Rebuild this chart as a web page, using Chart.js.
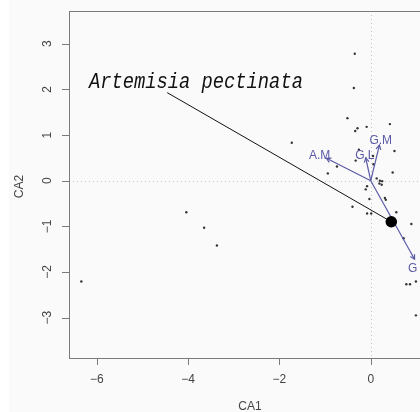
<!DOCTYPE html>
<html>
<head>
<meta charset="utf-8">
<script src="https://cdn.jsdelivr.net/npm/chart.js@4"></script>
<style>
  html, body { margin: 0; padding: 0; overflow: hidden; width: 420px; height: 412px; }
  body { background: linear-gradient(to right, #ffffff 9px, #fafafa 9px); }
  #wrap { position: absolute; left: 0; top: 0; width: 440px; height: 412px; }
</style>
</head>
<body>
<div id="wrap"><canvas id="ca" width="440" height="412"></canvas></div>
<script>
// Site scores (small dots)
const siteX = [-0.35, -0.37, -0.51, -0.29, -0.34, -0.09, 0.42, -1.73, -0.26, -0.33,
  -0.74, -0.94, 0.52, 0.48, 0.05, 0.06, 0.13, 0.20, 0.25, 0.19,
  0.24, -0.08, -0.11, -0.03, 0.31, 0.33, -0.40, -0.08, 0.01, 0.56,
  0.89, 0.72, 0.78, 0.86, 0.99, 0.99, -4.04, -3.65, -3.37, -6.34];
const siteY = [2.78, 2.03, 1.37, 1.15, 1.09, 1.18, 1.24, 0.83, 0.68, 0.44,
  0.31, 0.16, 0.65, 0.18, 0.54, 0.36, 0.05, 0.00, -0.01, -0.06,
  -0.09, -0.12, -0.19, -0.40, -0.38, -0.42, -0.57, -0.72, -0.72, -0.69,
  -0.95, -1.26, -2.27, -2.27, -2.21, -2.95, -0.69, -1.03, -1.42, -2.21];

// Environmental arrows
const envNames = ['A.M', 'G.L', 'G.M', 'G'];
const envX = [-0.97, -0.11, 0.19, 0.96];
const envY = [0.49, 0.50, 0.78, -1.72];
const envLabelX = [-1.12, -0.13, 0.22, 0.92];
const envLabelY = [0.55, 0.54, 0.87, -1.93];

// Highlighted species
const speciesName = 'Artemisia pectinata';
const speciesX = [0.45];
const speciesY = [-0.90];
const speciesLabelX = [-4.46];
const speciesLabelY = [1.93];
const speciesTextX = -3.83;
const speciesTextY = 2.16;

// Axes
const xTicks = [-6, -4, -2, 0];
const yTicks = [-3, -2, -1, 0, 1, 2, 3];
const xTitle = 'CA1';
const yTitle = 'CA2';

const arrowColor = '#5a5aa6';
const axisColor = '#7a7a7a';
const textColor = '#444444';

function fmt(v) {
  return v < 0 ? '\u2212' + Math.abs(v) : String(v);
}

const datasets = [];

datasets.push({
  label: 'species',
  data: speciesX.map((x, i) => ({ x: x, y: speciesY[i] })),
  pointRadius: 5.8,
  pointBackgroundColor: '#000',
  pointBorderWidth: 0,
  showLine: false
});

datasets.push({
  label: 'species-link',
  data: [{ x: speciesX[0], y: speciesY[0] }, { x: speciesLabelX[0], y: speciesLabelY[0] }],
  showLine: true,
  borderColor: '#111',
  borderWidth: 1,
  pointRadius: 0
});

envNames.forEach((name, i) => {
  datasets.push({
    label: name,
    data: [{ x: 0, y: 0 }, { x: envX[i], y: envY[i] }],
    showLine: true,
    borderColor: arrowColor,
    borderWidth: 1.2,
    pointRadius: 0
  });
});

datasets.push({
  label: 'sites',
  data: siteX.map((x, i) => ({ x: x, y: siteY[i] })),
  pointRadius: 1.2,
  pointBackgroundColor: '#333',
  pointBorderWidth: 0,
  showLine: false
});

// Draws the R-style frame, ticks, zero lines, arrowheads and labels
const decor = {
  id: 'decor',
  beforeDatasetsDraw(chart) {
    const ctx = chart.ctx;
    const xs = chart.scales.x, ys = chart.scales.y;
    const a = chart.chartArea;
    ctx.save();
    ctx.strokeStyle = '#c4c4c4';
    ctx.lineWidth = 1;
    ctx.setLineDash([1, 3]);
    const x0 = Math.round(xs.getPixelForValue(0)) + 0.5;
    const y0 = Math.round(ys.getPixelForValue(0)) + 0.5;
    ctx.beginPath();
    ctx.moveTo(x0, a.top); ctx.lineTo(x0, a.bottom);
    ctx.moveTo(a.left, y0); ctx.lineTo(a.right, y0);
    ctx.stroke();
    ctx.restore();
  },
  afterDatasetsDraw(chart) {
    const ctx = chart.ctx;
    const xs = chart.scales.x, ys = chart.scales.y;
    const a = chart.chartArea;
    ctx.save();

    // arrowheads
    ctx.strokeStyle = arrowColor;
    ctx.lineWidth = 1.2;
    envNames.forEach((name, i) => {
      const px = xs.getPixelForValue(envX[i]);
      const py = ys.getPixelForValue(envY[i]);
      const ox = xs.getPixelForValue(0);
      const oy = ys.getPixelForValue(0);
      const ang = Math.atan2(py - oy, px - ox);
      const len = 5;
      ctx.beginPath();
      ctx.moveTo(px - len * Math.cos(ang - 0.5), py - len * Math.sin(ang - 0.5));
      ctx.lineTo(px, py);
      ctx.lineTo(px - len * Math.cos(ang + 0.5), py - len * Math.sin(ang + 0.5));
      ctx.stroke();
    });

    // arrow labels
    ctx.fillStyle = arrowColor;
    ctx.font = '12px "Liberation Sans", Arial, sans-serif';
    ctx.textAlign = 'center';
    ctx.textBaseline = 'middle';
    envNames.forEach((name, i) => {
      ctx.fillText(name, xs.getPixelForValue(envLabelX[i]), ys.getPixelForValue(envLabelY[i]));
    });

    // species label, narrow italic mono
    ctx.fillStyle = '#111';
    ctx.font = 'italic 22px "Liberation Mono", "DejaVu Sans Mono", monospace';
    const w = ctx.measureText(speciesName).width;
    const tx = xs.getPixelForValue(speciesTextX);
    const ty = ys.getPixelForValue(speciesTextY);
    ctx.save();
    ctx.translate(tx, ty);
    ctx.scale(214 / w, 1);
    ctx.fillText(speciesName, 0, 0);
    ctx.restore();

    // frame
    ctx.strokeStyle = axisColor;
    ctx.lineWidth = 1;
    ctx.strokeRect(Math.round(a.left) + 0.5, Math.round(a.top) + 0.5,
      Math.round(a.right - a.left), Math.round(a.bottom - a.top));

    // ticks and tick labels
    ctx.fillStyle = textColor;
    ctx.font = '12px "Liberation Sans", Arial, sans-serif';
    ctx.beginPath();
    xTicks.forEach(v => {
      const px = Math.round(xs.getPixelForValue(v)) + 0.5;
      ctx.moveTo(px, a.bottom); ctx.lineTo(px, a.bottom + 7);
    });
    yTicks.forEach(v => {
      const py = Math.round(ys.getPixelForValue(v)) + 0.5;
      ctx.moveTo(a.left, py); ctx.lineTo(a.left - 7, py);
    });
    ctx.stroke();

    ctx.textAlign = 'center';
    ctx.textBaseline = 'middle';
    xTicks.forEach(v => {
      ctx.fillText(fmt(v), xs.getPixelForValue(v), a.bottom + 21.5);
    });
    yTicks.forEach(v => {
      ctx.save();
      ctx.translate(a.left - 21, ys.getPixelForValue(v));
      ctx.rotate(-Math.PI / 2);
      ctx.fillText(fmt(v), 0, 0);
      ctx.restore();
    });

    // axis titles
    ctx.fillText(xTitle, (a.left + a.right) / 2, a.bottom + 49);
    ctx.save();
    ctx.translate(20, (a.top + a.bottom) / 2 + 2);
    ctx.rotate(-Math.PI / 2);
    ctx.fillText(yTitle, 0, 0);
    ctx.restore();

    ctx.restore();
  }
};

new Chart(document.getElementById('ca'), {
  type: 'scatter',
  data: { datasets: datasets },
  options: {
    responsive: false,
    animation: false,
    events: [],
    layout: { padding: { left: 69, top: 11, right: 9, bottom: 54 } },
    plugins: { legend: { display: false }, tooltip: { enabled: false } },
    scales: {
      x: { type: 'linear', min: -6.61, max: 1.32, display: false },
      y: { type: 'linear', min: -3.885, max: 3.718, display: false }
    }
  },
  plugins: [decor]
});
</script>
</body>
</html>
